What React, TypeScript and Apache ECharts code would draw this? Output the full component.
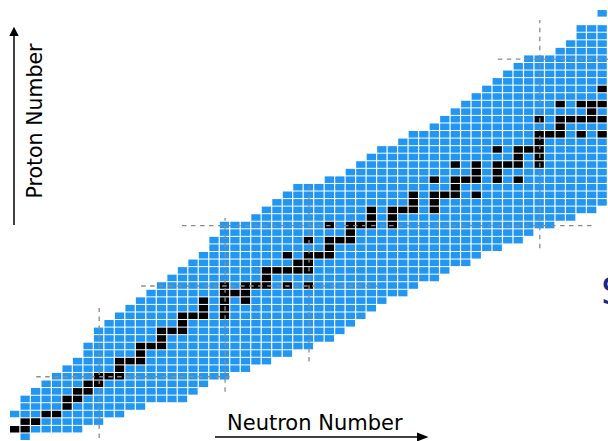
import React, { useEffect, useRef } from "react";
import * as echarts from "echarts";

// Proton number Z for each row of the chart (bottom to top)
const protonNumbers = [
  0, 1, 2, 3, 4, 5, 6, 7, 8, 9, 10, 11, 12, 13, 14, 15, 16, 17, 18, 19, 20,
  21, 22, 23, 24, 25, 26, 27, 28, 29, 30, 31, 32, 33, 34, 35, 36, 37, 38, 39,
  40, 41, 42, 43, 44, 45, 46, 47, 48, 49, 50, 51, 52, 53, 54, 55, 56,
];

// Lightest and heaviest known neutron number per Z (within N <= 56)
const neutronMin = [
  1, 0, 1, 0, 1, 1, 2, 3, 4, 5, 6, 7, 7, 8, 8, 9, 10, 11, 12, 13, 14,
  15, 16, 17, 18, 19, 19, 20, 20, 23, 24, 25, 26, 27, 30, 32, 33, 34, 35, 37,
  38, 40, 41, 42, 43, 44, 45, 46, 47, 48, 49, 52, 53, 54, 54, null, 56,
];
const neutronMax = [
  1, 6, 8, 10, 12, 16, 17, 18, 20, 22, 24, 26, 28, 30, 31, 32, 33, 34, 35, 37, 38,
  40, 41, 43, 44, 46, 48, 49, 51, 53, 55, 56, 56, 56, 56, 56, 56, 56, 56, 56,
  56, 56, 56, 56, 56, 56, 56, 56, 56, 56, 56, 56, 56, 56, 56, null, 56,
];

// Stable (and primordial) nuclides: neutron numbers per Z
const stableNeutrons: number[][] = [
  [], [0, 1], [1, 2], [3, 4], [5], [5, 6], [6, 7], [7, 8], [8, 9, 10], [10],
  [10, 11, 12], [12], [12, 13, 14], [14], [14, 15, 16], [16], [16, 17, 18, 20],
  [18, 20], [18, 20, 22], [20, 21, 22], [20, 22, 23, 24, 26, 28], [24],
  [24, 25, 26, 27, 28], [27, 28], [26, 28, 29, 30], [30], [28, 30, 31, 32], [32],
  [30, 32, 33, 34, 36], [34, 36], [34, 36, 37, 38, 40], [38, 40],
  [38, 40, 41, 42, 44], [42], [40, 42, 43, 44, 46, 48], [44, 46],
  [42, 44, 46, 47, 48, 50], [48, 50], [46, 48, 49, 50], [50],
  [50, 51, 52, 54, 56], [52], [50, 52, 53, 54, 55, 56], [55], [52, 54, 55, 56],
  [], [56], [], [], [], [], [], [], [], [], [], [],
];

// Magic-number guide lines: [magic number, from, to] along the other axis
const magicNeutronLines = [
  [8, -0.1, 17.1],
  [20, 6, 29],
  [28, 10, 33.6],
  [50, 25, 55.2],
];
const magicProtonLines = [
  [8, 2, 20.7],
  [20, 12, 34.5],
  [28, 15.9, 55],
  [50, 46, 57],
];

const BLUE = "#2196f3";
const STABLE = "#000000";
const FONT = "DejaVu Sans";

export default function App() {
  const ref = useRef<HTMLDivElement>(null);

  useEffect(() => {
    if (!ref.current) return;
    const chart = echarts.init(ref.current, undefined, { renderer: "svg" });

    const cells: number[][] = [];
    protonNumbers.forEach((z, i) => {
      const lo = neutronMin[i];
      const hi = neutronMax[i];
      if (lo == null || hi == null) return;
      for (let n = lo; n <= hi; n++) {
        cells.push([n, z, stableNeutrons[i].includes(n) ? 1 : 0]);
      }
    });

    const dashed = {
      type: "line" as const,
      showSymbol: false,
      symbol: "none",
      silent: true,
      z: 5,
      clip: false,
      lineStyle: { color: "#8c8c8c", width: 1.3, type: [4.5, 4.5] },
    };
    const lineSeries = [
      ...magicNeutronLines.map(([n, a, b]) => ({
        ...dashed,
        data: [
          [n, a],
          [n, b],
        ],
      })),
      ...magicProtonLines.map(([z, a, b]) => ({
        ...dashed,
        data: [
          [a, z],
          [b, z],
        ],
      })),
    ];

    chart.setOption({
      animation: false,
      grid: { left: 10, top: 10.06, width: 603.06, height: 431.2 },
      xAxis: { type: "value", min: -0.5, max: 56.5, show: false },
      yAxis: { type: "value", min: -0.5, max: 56.5, show: false },
      series: [
        {
          type: "custom",
          silent: true,
          z: 2,
          data: cells,
          renderItem: (_params: any, api: any) => {
            const n = api.value(0);
            const z = api.value(1);
            const stable = api.value(2);
            const topLeft = api.coord([n - 0.5, z + 0.5]);
            const size = api.size([1, 1]);
            return {
              type: "rect",
              shape: {
                x: topLeft[0],
                y: topLeft[1],
                width: size[0] - 1.2,
                height: size[1] - 1,
              },
              style: { fill: stable ? STABLE : BLUE },
            };
          },
        },
        ...lineSeries,
      ],
      graphic: [
        // Proton axis arrow
        {
          type: "line",
          shape: { x1: 14, y1: 225, x2: 14, y2: 34 },
          style: { stroke: "#000", lineWidth: 1.5 },
        },
        {
          type: "polygon",
          shape: { points: [[14, 26.7], [9.3, 36], [18.7, 36]] },
          style: { fill: "#000" },
        },
        {
          type: "text",
          x: 35,
          y: 121,
          rotation: Math.PI / 2,
          style: {
            text: "Proton Number",
            font: `20.5px "${FONT}"`,
            fill: "#000",
            align: "center",
            verticalAlign: "middle",
          },
        },
        // Neutron axis arrow
        {
          type: "line",
          shape: { x1: 215, y1: 437, x2: 420, y2: 437 },
          style: { stroke: "#000", lineWidth: 1.5 },
        },
        {
          type: "polygon",
          shape: { points: [[428.5, 437], [417, 432.5], [417, 441.5]] },
          style: { fill: "#000" },
        },
        {
          type: "text",
          x: 227,
          y: 423,
          style: {
            text: "Neutron Number",
            font: `21px "${FONT}"`,
            fill: "#000",
            align: "left",
            verticalAlign: "middle",
          },
        },
        {
          type: "text",
          x: 601,
          y: 291,
          style: {
            text: "S",
            font: `38px "${FONT}"`,
            fill: "#1a2a80",
            align: "left",
            verticalAlign: "middle",
          },
        },
      ],
    });

    return () => chart.dispose();
  }, []);

  return (
    <div
      ref={ref}
      style={{ position: "absolute", left: 0, top: 0, width: 608, height: 441 }}
    />
  );
}
